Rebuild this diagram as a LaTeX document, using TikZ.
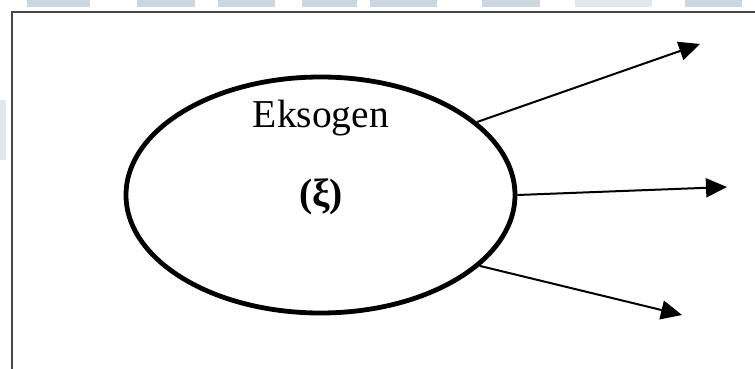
\documentclass[tikz,border=0pt]{standalone}
\usepackage{fontspec}
\setmainfont{Liberation Serif}
\usetikzlibrary{shapes.geometric,arrows.meta}
\definecolor{wm}{RGB}{205,215,226}
\definecolor{frame}{RGB}{70,70,70}
\tikzset{
  wmblock/.style={fill=wm,draw=none},
  latent/.style={ellipse,draw=black,line width=4.8pt,minimum width=389pt,minimum height=236pt,inner sep=0pt},
  lbl/.style={font=\fontsize{39.5}{42}\selectfont,inner sep=0pt},
  outarrow/.style={line width=2pt,-{Triangle[length=21pt,width=19pt]}}
}
\begin{document}
\begin{tikzpicture}[x=1pt,y=-1pt]
\useasboundingbox (0,0) rectangle (755,369);
% watermark blocks
\fill[wmblock] (27,0) rectangle (90,7);
\fill[wmblock] (137,0) rectangle (195,7);
\fill[wmblock] (218,0) rectangle (275,7);
\fill[wmblock] (302,0) rectangle (357,7);
\fill[wmblock] (370,0) rectangle (437,7);
\fill[wmblock] (482,0) rectangle (540,7);
\fill[wmblock,opacity=0.6] (575,0) rectangle (652,7);
\fill[wmblock] (685,0) rectangle (742,7);
\fill[wmblock,opacity=0.6] (0,100) rectangle (6,160);
% frame
\draw[frame,line width=2.6pt] (755,12) -- (12,12) -- (12,369);
% ellipse
\node[latent] (e) at (320.5,195) {};
\node[lbl,anchor=base] (t1) at (321,127) {Eksogen};
\node[lbl,anchor=center] (t2) at (321,197) {\textbf{(ξ)}};
% arrow ends
\coordinate (a1) at (700,44);
\coordinate (a2) at (727,187);
\coordinate (a3) at (682,315);
\draw[outarrow] (e.25.6) -- (a1);
\draw[outarrow] (e.-0.6) -- (a2);
\draw[outarrow] (e.-24.3) -- (a3);
\end{tikzpicture}
\end{document}
